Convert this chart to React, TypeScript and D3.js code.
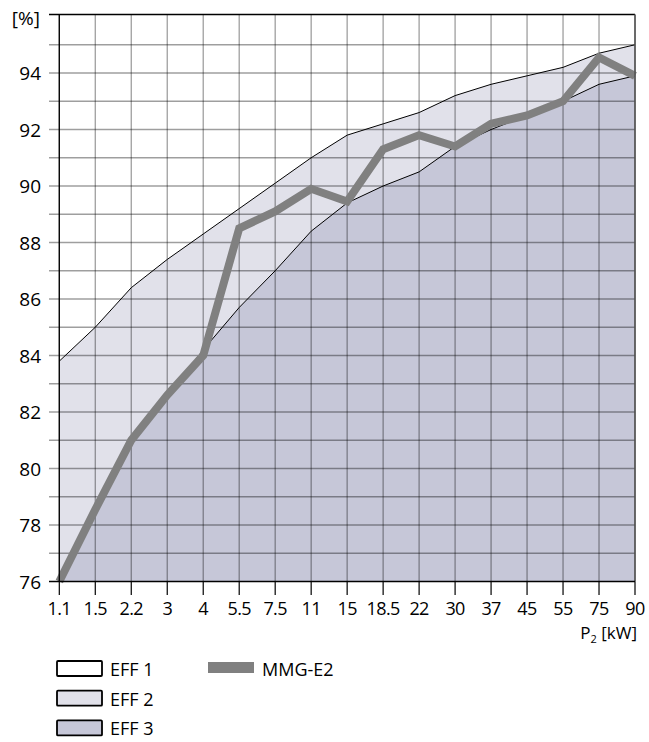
import React from "react";
import * as d3 from "d3";

const categories = ["1.1", "1.5", "2.2", "3", "4", "5.5", "7.5", "11", "15", "18.5", "22", "30", "37", "45", "55", "75", "90"];
const eff1Limit = [83.8, 85.0, 86.4, 87.4, 88.3, 89.2, 90.1, 91.0, 91.8, 92.2, 92.6, 93.2, 93.6, 93.9, 94.2, 94.7, 95.0];
const eff2Limit = [76.2, 78.5, 81.0, 82.6, 84.2, 85.7, 87.0, 88.4, 89.4, 90.0, 90.5, 91.4, 92.0, 92.5, 93.0, 93.6, 93.9];
const mmgE2 = [76.0, 78.55, 81.0, 82.6, 84.0, 88.5, 89.1, 89.9, 89.45, 91.3, 91.8, 91.4, 92.2, 92.5, 93.0, 94.55, 93.9];
const yTicks = [76, 78, 80, 82, 84, 86, 88, 90, 92, 94];
const yGrid = [77, 78, 79, 80, 81, 82, 83, 84, 85, 86, 87, 88, 89, 90, 91, 92, 93, 94, 95];
const legendAreas = [
  { label: "EFF 1", color: "#ffffff" },
  { label: "EFF 2", color: "#e1e1ea" },
  { label: "EFF 3", color: "#c6c7d8" },
];
const lineLabel = "MMG-E2";

const FONT = "'Open Sans', 'DejaVu Sans', sans-serif";

export default function App() {
  const left = 59.3;
  const right = 635;
  const top = 14.5;
  const bottom = 581.5;
  const x = d3.scalePoint<string>().domain(categories).range([left, right]);
  const y = d3.scaleLinear().domain([76, 96]).range([bottom, 16.5]);

  const idx = categories.map((_, i) => i);
  const area = (vals: number[]) =>
    d3.area<number>().x((i) => x(categories[i])!).y0(bottom).y1((i) => y(vals[i]))(idx)!;
  const line = (vals: number[]) =>
    d3.line<number>().x((i) => x(categories[i])!).y((i) => y(vals[i]))(idx)!;

  const grid = "rgba(0,0,0,0.38)";

  return (
    <svg width={649} height={742} style={{ position: "absolute", left: 0, top: 0 }} fontFamily={FONT}>
      <rect x={0} y={0} width={649} height={742} fill="#fff" />
      <path d={area(eff1Limit)} fill={legendAreas[1].color} />
      <path d={area(eff2Limit)} fill={legendAreas[2].color} />
      {yGrid.map((v) => (
        <line key={"h" + v} x1={49} x2={right} y1={y(v)} y2={y(v)} stroke={grid} strokeWidth={1.3} />
      ))}
      {categories.map((c) => (
        <line key={"v" + c} x1={x(c)} x2={x(c)} y1={top} y2={bottom} stroke={grid} strokeWidth={1.3} />
      ))}
      <path d={line(eff1Limit)} fill="none" stroke="#000" strokeWidth={1} />
      <path d={line(eff2Limit)} fill="none" stroke="#000" strokeWidth={1} />
      <path d={line(mmgE2)} fill="none" stroke="#808080" strokeWidth={8} strokeLinejoin="miter" />
      {/* frame */}
      <line x1={49} x2={right} y1={top} y2={top} stroke="#000" strokeWidth={1.3} />
      <line x1={right} x2={right} y1={top} y2={bottom} stroke="#555" strokeWidth={1.6} />
      <line x1={left} x2={left} y1={top} y2={bottom} stroke="#000" strokeWidth={1.3} />
      <line x1={49} x2={right} y1={bottom} y2={bottom} stroke="#000" strokeWidth={1.3} />
      {categories.map((c) => (
        <line key={"t" + c} x1={x(c)} x2={x(c)} y1={bottom} y2={595} stroke="#000" strokeWidth={1.2} />
      ))}
      {yTicks.map((v) => (
        <text key={"yl" + v} x={41} y={y(v) + 7} textAnchor="end" fontSize={19} fill="#000">
          {v}
        </text>
      ))}
      <text x={40} y={25} textAnchor="end" fontSize={19} fill="#000">[%]</text>
      {categories.map((c) => (
        <text key={"xl" + c} x={x(c)} y={615} textAnchor="middle" fontSize={18} letterSpacing={-0.6} fill="#000">
          {c}
        </text>
      ))}
      <text x={637} y={639} textAnchor="end" fontSize={17} fill="#000">
        P<tspan fontSize={11} dy={4}>2</tspan>
        <tspan dy={-4}> [kW]</tspan>
      </text>
      {legendAreas.map((a, i) => (
        <g key={a.label} transform={`translate(0, ${i * 29.7})`}>
          <rect x={57} y={661} width={45} height={15} fill={a.color} stroke="#000" strokeWidth={1.8} rx={1} />
          <text x={110} y={676} fontSize={18} fill="#000">{a.label}</text>
        </g>
      ))}
      <rect x={208} y={662} width={46} height={11} fill="#808080" />
      <text x={262} y={676} fontSize={18} fill="#000">{lineLabel}</text>
    </svg>
  );
}
